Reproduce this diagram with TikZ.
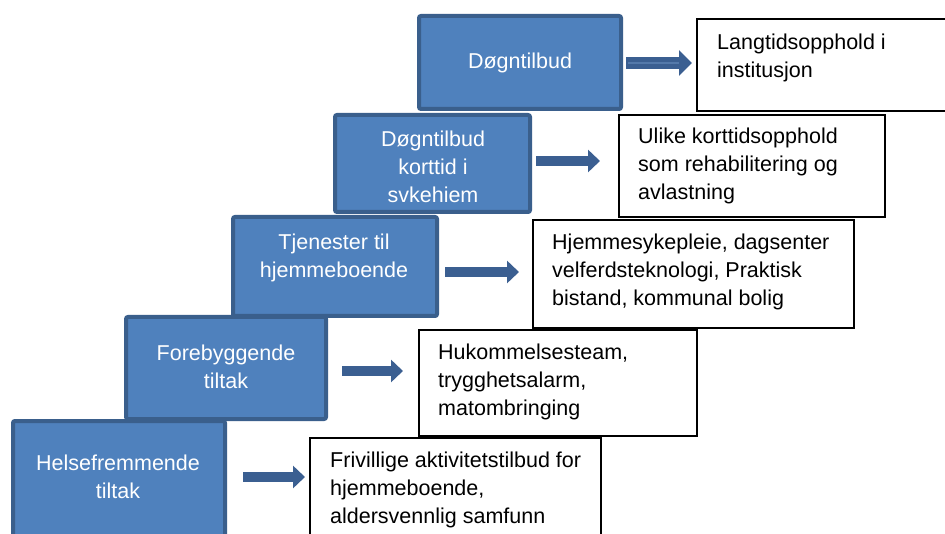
\documentclass[tikz,border=0pt]{standalone}
\usepackage{fontspec}
\setmainfont{Liberation Sans}
\usetikzlibrary{arrows.meta}
\definecolor{boxfill}{HTML}{4F81BD}
\definecolor{boxline}{HTML}{3A5F8C}
\definecolor{arrowcol}{HTML}{3B5F91}
\definecolor{arrowinner}{HTML}{5479AA}
\tikzset{
  bluebox/.style={draw=boxline, fill=boxfill, line width=4pt, rounded corners=2pt, inner sep=0pt},
  whitebox/.style={draw=black, fill=white, line width=1.8pt, inner sep=0pt},
  bluetext/.style={text=white, inner sep=0pt, anchor=base, font=\fontsize{21.5}{28}\selectfont},
  blacktext/.style={text=black, inner sep=0pt, anchor=base west, font=\fontsize{21.5}{28}\selectfont},
  blockarrow/.style={draw=arrowcol, line width=10pt, -{Triangle[length=12pt,width=22pt]}},
}
\newcommand{\lines}[1]{\begin{tabular}[t]{@{}c@{}}#1\end{tabular}}
\newcommand{\llines}[1]{\begin{tabular}[t]{@{}l@{}}#1\end{tabular}}
\begin{document}
\begin{tikzpicture}[x=1pt,y=-1pt]
\useasboundingbox (0,0) rectangle (945,534);
\clip (0,0) rectangle (945,534);
\fill[white] (0,0) rectangle (945,534);

% blue boxes
\node[bluebox, minimum width=202pt, minimum height=93pt] (b1) at (520,62.5) {};
\node[bluebox, minimum width=195pt, minimum height=97pt] (b2) at (432.5,163.5) {};
\node[bluebox, minimum width=204pt, minimum height=99pt] (b3) at (335,266.5) {};
\node[bluebox, minimum width=200pt, minimum height=102pt] (b4) at (226,368) {};
\node[bluebox, minimum width=212pt, minimum height=130pt] (b5) at (119,486) {};

\node[bluetext] (t1) at (520,69) {\lines{Døgntilbud}};
\node[bluetext] (t2) at (433,147) {\lines{Døgntilbud\\korttid i\\svkehiem}};
\node[bluetext] (t3) at (334,250) {\lines{Tjenester til\\hjemmeboende}};
\node[bluetext] (t4) at (226,361) {\lines{Forebyggende\\tiltak}};
\node[bluetext] (t5) at (118,470) {\lines{Helsefremmende\\tiltak}};

% white boxes
\node[whitebox, minimum width=263pt, minimum height=92pt] (w1) at (828.5,65) {};
\node[whitebox, minimum width=266pt, minimum height=102pt] (w2) at (752,166) {};
\node[whitebox, minimum width=321pt, minimum height=108pt] (w3) at (693.5,274) {};
\node[whitebox, minimum width=278pt, minimum height=106pt] (w4) at (558,383) {};
\node[whitebox, minimum width=291pt, minimum height=122pt] (w5) at (455.5,499) {};

\node[blacktext] (u1) at (717,50) {\llines{Langtidsopphold i\\institusjon}};
\node[blacktext] (u2) at (638,144) {\llines{Ulike korttidsopphold\\som rehabilitering og\\avlastning}};
\node[blacktext] (u3) at (552,250) {\llines{Hjemmesykepleie, dagsenter\\velferdsteknologi, Praktisk\\bistand, kommunal bolig}};
\node[blacktext] (u4) at (438,360) {\llines{Hukommelsesteam,\\trygghetsalarm,\\matombringing}};
\node[blacktext] (u5) at (330,467) {\llines{Frivillige aktivitetstilbud for\\hjemmeboende,\\aldersvennlig samfunn}};

% arrows
\coordinate (a1s) at (626,63);  \coordinate (a1e) at (692,63);
\coordinate (a1m) at (679,63);
\coordinate (a2s) at (536,161); \coordinate (a2e) at (600,161);
\coordinate (a3s) at (445,272); \coordinate (a3e) at (519,272);
\coordinate (a4s) at (342,371); \coordinate (a4e) at (403,371);
\coordinate (a5s) at (243,477); \coordinate (a5e) at (305,477);

\draw[blockarrow, line width=12pt, -{Triangle[length=13pt,width=25pt]}] (a1s) -- (a1e);
\draw[arrowinner, line width=1.5pt] (a1s) ++(2,0) -- (a1m);
\draw[blockarrow] (a2s) -- (a2e);
\draw[blockarrow] (a3s) -- (a3e);
\draw[blockarrow] (a4s) -- (a4e);
\draw[blockarrow] (a5s) -- (a5e);
\end{tikzpicture}
\end{document}
